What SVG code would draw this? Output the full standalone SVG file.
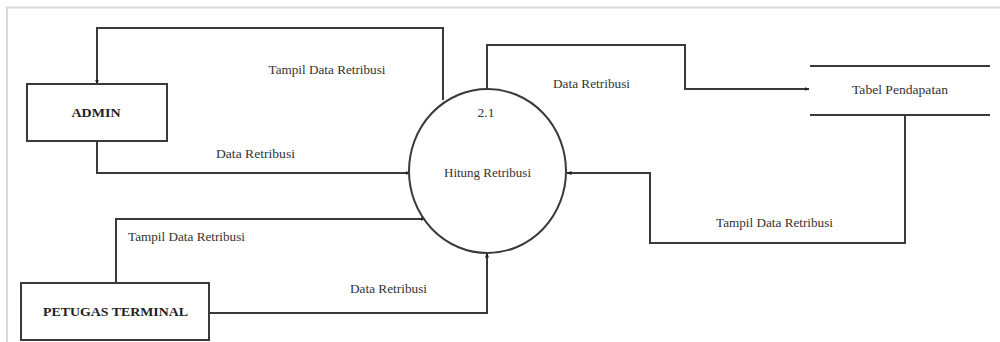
<svg xmlns="http://www.w3.org/2000/svg" width="1000" height="342" viewBox="0 0 1000 342">
  <style>
    .frame { fill: none; stroke: #d9d9d9; stroke-width: 2; }
    .box { fill: #ffffff; stroke: #3a3a3a; stroke-width: 2; }
    .flow { fill: none; stroke: #3a3a3a; stroke-width: 2; marker-end: url(#arrow); }
    .store { fill: none; stroke: #3a3a3a; stroke-width: 2; }
    .label { font-family: "Liberation Serif", "Times New Roman", serif; font-size: 12.5px; fill: #333333; text-anchor: middle; }
    .entity { font-family: "Liberation Serif", "Times New Roman", serif; font-size: 13px; font-weight: bold; fill: #222222; text-anchor: middle; }
  </style>
  <defs>
    <marker id="arrow" viewBox="0 0 10 10" refX="9" refY="5" markerWidth="5" markerHeight="5" markerUnits="userSpaceOnUse" orient="auto">
      <path d="M0,1 L10,5 L0,9 Z" fill="#222222"/>
    </marker>
  </defs>

  <rect width="1000" height="342" fill="#ffffff"/>
  <path class="frame" d="M7,342 L7,7.5 L1000,7.5"/>

  <!-- data flows -->
  <g id="connectors">
    <path class="flow" d="M443,100 L443,28 L97,28 L97,84"/>
    <path class="flow" d="M97,141 L97,173 L410,173"/>
    <path class="flow" d="M116,283 L116,219 L425,219"/>
    <path class="flow" d="M209,313 L487,313 L487,253"/>
    <path class="flow" d="M487,89 L487,45 L685,45 L685,89 L809,89"/>
    <path class="flow" d="M905,115 L905,243 L650,243 L650,173 L567,173"/>
    <text class="label" x="327" y="74" textLength="117" lengthAdjust="spacingAndGlyphs">Tampil Data Retribusi</text>
    <text class="label" x="255.5" y="158" textLength="79" lengthAdjust="spacingAndGlyphs">Data Retribusi</text>
    <text class="label" x="186.5" y="241" textLength="117" lengthAdjust="spacingAndGlyphs">Tampil Data Retribusi</text>
    <text class="label" x="388.5" y="293" textLength="77" lengthAdjust="spacingAndGlyphs">Data Retribusi</text>
    <text class="label" x="591.5" y="88" textLength="77" lengthAdjust="spacingAndGlyphs">Data Retribusi</text>
    <text class="label" x="774.5" y="227" textLength="117" lengthAdjust="spacingAndGlyphs">Tampil Data Retribusi</text>
  </g>

  <g id="admin">
    <rect class="box" x="27" y="84" width="140" height="57"/>
    <text class="entity" x="96" y="117" textLength="49" lengthAdjust="spacingAndGlyphs">ADMIN</text>
  </g>

  <g id="petugas-terminal">
    <rect class="box" x="21" y="283" width="188" height="57"/>
    <text class="entity" x="115.5" y="316" textLength="145" lengthAdjust="spacingAndGlyphs">PETUGAS TERMINAL</text>
  </g>

  <g id="hitung-retribusi">
    <ellipse class="box" cx="487.5" cy="171" rx="78.5" ry="82"/>
    <text class="label" x="486" y="117" textLength="17" lengthAdjust="spacingAndGlyphs">2.1</text>
    <text class="label" x="487.5" y="177" textLength="87" lengthAdjust="spacingAndGlyphs">Hitung Retribusi</text>
  </g>

  <g id="tabel-pendapatan">
    <line class="store" x1="810" y1="66" x2="990" y2="66"/>
    <line class="store" x1="810" y1="115" x2="990" y2="115"/>
    <text class="label" x="900" y="94" textLength="96" lengthAdjust="spacingAndGlyphs">Tabel Pendapatan</text>
  </g>
</svg>
